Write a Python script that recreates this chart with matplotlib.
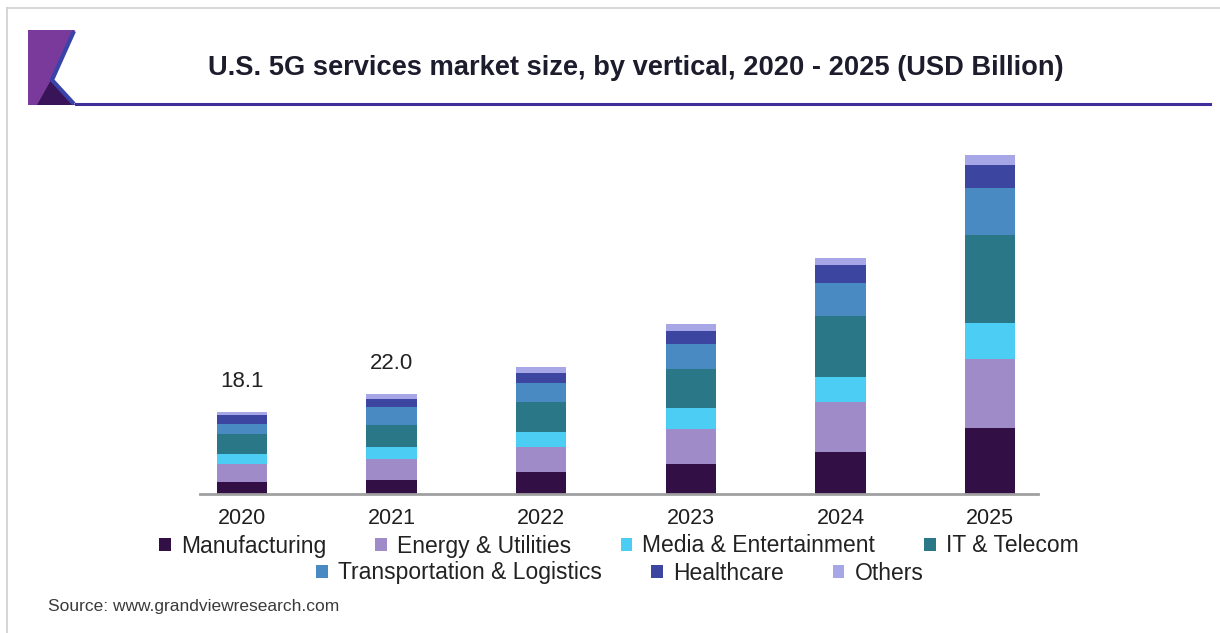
import matplotlib
matplotlib.use("Agg")
import matplotlib.pyplot as plt
from matplotlib.patches import Polygon, Rectangle
from matplotlib.lines import Line2D
import numpy as np

years = ["2020", "2021", "2022", "2023", "2024", "2025"]
manufacturing = [2.7, 3.2, 4.9, 6.6, 9.3, 14.6]
energy_utilities = [3.9, 4.6, 5.5, 7.7, 10.9, 15.2]
media_entertainment = [2.2, 2.6, 3.3, 4.6, 5.7, 7.9]
it_telecom = [4.4, 4.8, 6.6, 8.8, 13.5, 19.4]
transportation_logistics = [2.2, 4.0, 4.2, 5.5, 7.1, 10.4]
healthcare = [2.05, 1.8, 2.2, 2.7, 4.0, 5.1]
others = [0.65, 1.0, 1.3, 1.7, 1.7, 2.2]
label_years = [0, 1]
label_texts = ["18.1", "22.0"]

series_names = ["Manufacturing", "Energy & Utilities", "Media & Entertainment",
                "IT & Telecom", "Transportation & Logistics", "Healthcare", "Others"]
series = [manufacturing, energy_utilities, media_entertainment, it_telecom,
          transportation_logistics, healthcare, others]
colors = ["#321045", "#a08bc9", "#4ccdf3", "#2a7787", "#4a8ac2", "#3c46a0", "#a7a6e6"]

plt.rcParams['font.family'] = ['Liberation Sans', 'DejaVu Sans']

W, H = 1220, 633
fig = plt.figure(figsize=(W / 100, H / 100), dpi=100)
fig.patch.set_facecolor("white")

def fx(px):
    return px / W

def fy(py):
    return 1 - py / H

# frame lines (top & left)
fig.add_artist(Line2D([fx(7), fx(1220)], [fy(8), fy(8)], color="#d0d0d0", lw=1.2))
fig.add_artist(Line2D([fx(7), fx(7)], [fy(8), fy(633)], color="#d0d0d0", lw=1.2))

# logo
logo_main = Polygon([(fx(28), fy(30)), (fx(75), fy(30)), (fx(51), fy(80)),
                     (fx(75), fy(105)), (fx(28), fy(105))], closed=True,
                    facecolor="#7a3a9c", edgecolor="none")
fig.add_artist(logo_main)
logo_dark = Polygon([(fx(37), fy(105)), (fx(51), fy(80)), (fx(75), fy(105))], closed=True,
                    facecolor="#3a1458", edgecolor="none")
fig.add_artist(logo_dark)
fig.add_artist(Line2D([fx(74), fx(52), fx(74)], [fy(31), fy(80), fy(104)],
                      color="#3a43a8", lw=3.0, solid_joinstyle="round", solid_capstyle="butt"))

# title underline
fig.add_artist(Line2D([fx(76), fx(1210)], [fy(104), fy(104)], color="#3e2f9a", lw=2.2))

# title
fig.text(fx(636), fy(68), "U.S. 5G services market size, by vertical, 2020 - 2025 (USD Billion)",
         ha="center", va="center", fontsize=19.6, fontweight="bold", color="#1c1c2c")

# axes
ax_left, ax_right, base_y = 200, 1038, 494
ymax = 80
px_per_unit = 4.53
ax_top = base_y - ymax * px_per_unit
ax = fig.add_axes([fx(ax_left), fy(base_y), (ax_right - ax_left) / W, (base_y - ax_top) / H])
x = np.arange(len(years))
bottom = np.zeros(len(years))
for name, vals, c in zip(series_names, series, colors):
    ax.bar(x, vals, width=0.335, bottom=bottom, color=c, label=name, edgecolor="none")
    bottom += np.array(vals)

for i, t in zip(label_years, label_texts):
    ax.annotate(t, (x[i], bottom[i]), xytext=(0, 22), textcoords="offset points",
                ha="center", va="center", fontsize=16, color="#222222")

ax.set_xlim(-0.28, 5.32)
ax.set_ylim(0, ymax)
ax.set_xticks(x)
ax.set_xticklabels(years, fontsize=15.5, color="#1e1e1e")
ax.tick_params(axis="x", length=0, pad=10)
ax.set_yticks([])
for s in ["top", "right", "left"]:
    ax.spines[s].set_visible(False)
ax.spines["bottom"].set_color("#a0a0a0")
ax.spines["bottom"].set_linewidth(2)
ax.set_facecolor("none")

# legends
handles = [Rectangle((0, 0), 1, 1, facecolor=c, edgecolor="none") for c in colors]
legend_kw = dict(loc="center", frameon=False, fontsize=16.5, handlelength=0.5, handleheight=0.5,
                 handletextpad=0.45, columnspacing=2.15, borderaxespad=0, borderpad=0)
leg1 = fig.legend(handles[:4], series_names[:4], bbox_to_anchor=(fx(619), fy(546)),
                  ncol=4, **legend_kw)
leg2 = fig.legend(handles[4:], series_names[4:], bbox_to_anchor=(fx(620), fy(573)),
                  ncol=3, **legend_kw)
for leg in (leg1, leg2):
    for t in leg.get_texts():
        t.set_color("#222222")

fig.text(fx(48), fy(607), "Source: www.grandviewresearch.com", ha="left", va="center",
         fontsize=12.5, color="#3a3a3a")

fig.savefig("out.png", dpi=100, facecolor="white")
